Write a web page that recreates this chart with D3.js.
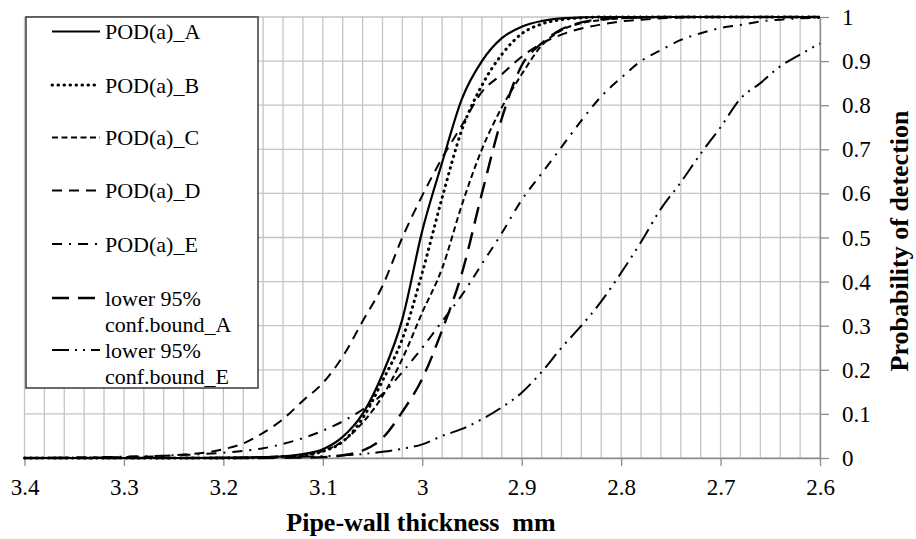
<!DOCTYPE html>
<html>
<head>
<meta charset="utf-8">
<script src="https://cdn.jsdelivr.net/npm/d3@7"></script>
<style>
  html, body { margin: 0; padding: 0; background: #fff; }
  svg { display: block; }
  text { font-family: "Liberation Serif", "Times New Roman", serif; fill: #000; }
</style>
</head>
<body>
<svg id="chart" width="916" height="539"></svg>
<script>
// ---- Data ----
const thickness = [3.40, 3.35, 3.30, 3.25, 3.20, 3.18, 3.16, 3.14, 3.12, 3.10,
  3.08, 3.06, 3.04, 3.02, 3.00, 2.98, 2.96, 2.94, 2.92, 2.90,
  2.88, 2.86, 2.84, 2.82, 2.80, 2.78, 2.76, 2.74, 2.72, 2.70,
  2.68, 2.66, 2.64, 2.62, 2.60];

const podA = [0, 0, 0, 0, 0.0005, 0.001, 0.002, 0.004, 0.009, 0.02,
  0.048, 0.1, 0.19, 0.315, 0.515, 0.67, 0.815, 0.9, 0.952, 0.978,
  0.991, 0.997, 0.999, 1, 1, 1, 1, 1, 1, 1,
  1, 1, 1, 1, 1];

const podB = [0, 0, 0, 0, 0, 0.0005, 0.001, 0.003, 0.006, 0.015,
  0.037, 0.09, 0.175, 0.27, 0.42, 0.59, 0.745, 0.845, 0.915, 0.962,
  0.984, 0.994, 0.998, 1, 1, 1, 1, 1, 1, 1,
  1, 1, 1, 1, 1];

const podC = [0, 0, 0, 0, 0.0005, 0.001, 0.002, 0.004, 0.007, 0.016,
  0.038, 0.08, 0.14, 0.225, 0.33, 0.43, 0.575, 0.7, 0.795, 0.87,
  0.935, 0.97, 0.986, 0.993, 0.997, 0.999, 1, 1, 1, 1,
  1, 1, 1, 1, 1];

const podD = [0, 0.0008, 0.002, 0.006, 0.02, 0.033, 0.057, 0.088, 0.13, 0.17,
  0.23, 0.31, 0.39, 0.5, 0.595, 0.68, 0.755, 0.83, 0.87, 0.91,
  0.94, 0.96, 0.974, 0.983, 0.99, 0.994, 0.997, 0.999, 1, 1,
  1, 1, 1, 1, 1];

const podE = [0, 0.001, 0.003, 0.006, 0.012, 0.016, 0.022, 0.032, 0.045, 0.062,
  0.083, 0.11, 0.145, 0.195, 0.25, 0.31, 0.37, 0.44, 0.51, 0.585,
  0.645, 0.705, 0.765, 0.82, 0.862, 0.9, 0.925, 0.948, 0.963, 0.975,
  0.982, 0.99, 0.994, 0.997, 0.998];

const lowerA = [0, 0, 0, 0, 0, 0, 0, 0.0005, 0.001, 0.002,
  0.006, 0.017, 0.045, 0.105, 0.18, 0.29, 0.42, 0.6, 0.77, 0.89,
  0.94, 0.972, 0.988, 0.995, 0.998, 0.999, 1, 1, 1, 1,
  1, 1, 1, 1, 1];

const lowerE = [0, 0, 0, 0, 0.0005, 0.001, 0.0015, 0.002, 0.003, 0.004,
  0.006, 0.009, 0.014, 0.021, 0.031, 0.05, 0.066, 0.088, 0.115, 0.148,
  0.195, 0.25, 0.3, 0.355, 0.42, 0.49, 0.565, 0.625, 0.69, 0.75,
  0.815, 0.85, 0.888, 0.915, 0.94];

const seriesNames = ["POD(a)_A", "POD(a)_B", "POD(a)_C", "POD(a)_D", "POD(a)_E",
  "lower 95%\nconf.bound_A", "lower 95%\nconf.bound_E"];

const xTickValues = [3.4, 3.3, 3.2, 3.1, 3.0, 2.9, 2.8, 2.7, 2.6];
const xTickLabels = ["3.4", "3.3", "3.2", "3.1", "3", "2.9", "2.8", "2.7", "2.6"];
const yTickValues = [0, 0.1, 0.2, 0.3, 0.4, 0.5, 0.6, 0.7, 0.8, 0.9, 1];
const yTickLabels = ["0", "0.1", "0.2", "0.3", "0.4", "0.5", "0.6", "0.7", "0.8", "0.9", "1"];

const xTitle = "Pipe-wall thickness  mm";
const yTitle = "Probability of detection";

// ---- Styles ----
const styles = [
  { dash: null, width: 2.2, cap: "butt" },
  { dash: "0.5,5.5", width: 3, cap: "round" },
  { dash: "6,3.5", width: 2, cap: "butt" },
  { dash: "10,7", width: 2, cap: "butt" },
  { dash: "10,7,2,7", width: 2, cap: "butt" },
  { dash: "17,9", width: 2.4, cap: "butt" },
  { dash: "17,6,2,6,2,6", width: 2, cap: "butt" }
];

const valuesList = [podA, podB, podC, podD, podE, lowerA, lowerE];

// ---- Scales ----
const svg = d3.select("#chart");
const x = d3.scaleLinear().domain([3.4, 2.6]).range([24.5, 820]);
const y = d3.scaleLinear().domain([0, 1]).range([458, 17]);

// ---- Grid ----
const grid = svg.append("g");
grid.selectAll("line.v").data(x.ticks(40)).enter().append("line")
  .attr("x1", d => x(d)).attr("x2", d => x(d))
  .attr("y1", y(0)).attr("y2", y(1))
  .attr("stroke", "#c4c4c4").attr("stroke-width", 1.3);
grid.selectAll("line.h").data(yTickValues).enter().append("line")
  .attr("x1", x(3.4)).attr("x2", x(2.6))
  .attr("y1", d => y(d)).attr("y2", d => y(d))
  .attr("stroke", "#c4c4c4").attr("stroke-width", 1.3);

// ---- Axes ----
const xAxis = svg.append("g").attr("transform", `translate(0,${y(0)})`)
  .call(d3.axisBottom(x).tickValues(xTickValues).tickSizeInner(8).tickSizeOuter(0)
    .tickFormat((d, i) => xTickLabels[i]));
xAxis.select(".domain").attr("stroke", "#8c8c8c").attr("stroke-width", 1.3);
xAxis.selectAll(".tick line").attr("stroke", "#8c8c8c").attr("stroke-width", 1.3);
xAxis.selectAll(".tick text").attr("y", 37).attr("dy", 0)
  .style("font-family", '"Liberation Serif", serif').style("font-size", "23px").attr("fill", "#000");

const yAxis = svg.append("g").attr("transform", `translate(${x(2.6)},0)`)
  .call(d3.axisRight(y).tickValues(yTickValues).tickSizeInner(9).tickSizeOuter(0).tickPadding(13)
    .tickFormat((d, i) => yTickLabels[i]));
yAxis.select(".domain").attr("stroke", "#8c8c8c").attr("stroke-width", 1.3);
yAxis.selectAll(".tick line").attr("stroke", "#8c8c8c").attr("stroke-width", 1.3);
yAxis.selectAll(".tick text").attr("dy", "0.33em")
  .style("font-family", '"Liberation Serif", serif').style("font-size", "23px").attr("fill", "#000");

// ---- Curves ----
const line = d3.line()
  .x(d => x(d.t)).y(d => y(d.p))
  .curve(d3.curveMonotoneX);

const curves = svg.append("g");
valuesList.forEach((vals, i) => {
  const pts = thickness.map((t, j) => ({ t: t, p: vals[j] }));
  curves.append("path")
    .datum(pts)
    .attr("d", line)
    .attr("fill", "none")
    .attr("stroke", "#000")
    .attr("stroke-width", styles[i].width)
    .attr("stroke-linecap", styles[i].cap)
    .attr("stroke-dasharray", styles[i].dash);
});

// ---- Legend ----
const legend = svg.append("g");
legend.append("rect")
  .attr("x", 26).attr("y", 17).attr("width", 232).attr("height", 371)
  .attr("fill", "#fff").attr("stroke", "#3a3a3a").attr("stroke-width", 1.5);

const legendY = [31.5, 85, 137.5, 190.5, 244, 298, 350];
seriesNames.forEach((name, i) => {
  const ly = legendY[i];
  legend.append("line")
    .attr("x1", 52).attr("x2", 100).attr("y1", ly).attr("y2", ly)
    .attr("stroke", "#000")
    .attr("stroke-width", styles[i].width)
    .attr("stroke-linecap", styles[i].cap)
    .attr("stroke-dasharray", styles[i].dash);
  const lines = name.split("\n");
  lines.forEach((s, k) => {
    legend.append("text")
      .attr("x", 105).attr("y", ly + 7.5 + k * 26)
      .style("font-size", "22px")
      .text(s);
  });
});

// ---- Titles ----
svg.append("text")
  .attr("x", 421).attr("y", 531)
  .attr("text-anchor", "middle")
  .style("font-size", "26px").style("font-weight", "bold")
  .style("white-space", "pre")
  .text(xTitle);

svg.append("text")
  .attr("transform", `translate(908,241) rotate(-90)`)
  .attr("text-anchor", "middle")
  .style("font-size", "26px").style("font-weight", "bold")
  .text(yTitle);
</script>
</body>
</html>
